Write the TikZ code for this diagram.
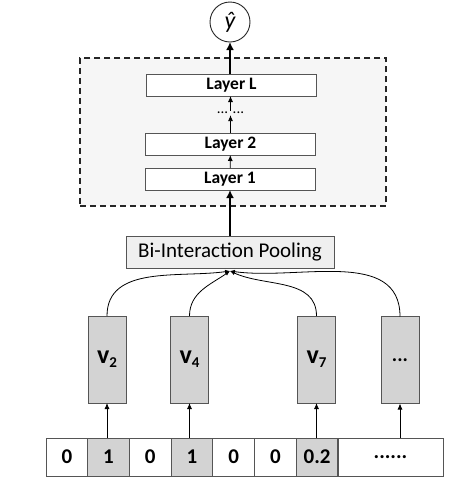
\documentclass[tikz,border=0pt]{standalone}
\usepackage{fontspec}
\setmainfont{Carlito}
\usetikzlibrary{arrows.meta}

\definecolor{cellgray}{HTML}{D3D3D3}
\definecolor{poolgray}{HTML}{EFEFEF}
\definecolor{mlpgray}{HTML}{F6F6F6}
\definecolor{edge}{HTML}{555555}

\newcommand{\embv}[1]{{\fontsize{26}{26}\selectfont\bfseries v}\raisebox{-4pt}{\fontsize{15}{15}\selectfont\bfseries #1}}

\tikzset{
  box/.style={draw=edge, line width=0.9pt, inner sep=0pt, outer sep=0pt},
  cell/.style={box, minimum width=41.7, minimum height=38, font=\fontsize{21}{21}\selectfont\bfseries},
  embbox/.style={box, fill=cellgray, minimum width=38, minimum height=87},
  layerbox/.style={box, fill=white, minimum width=170, minimum height=22, font=\fontsize{17.5}{17.5}\selectfont\bfseries},
  thin arrow/.style={line width=0.8pt, -{Latex[length=6pt,width=5pt]}},
  thick arrow/.style={line width=2.2pt, -{Latex[length=8pt,width=8pt]}},
  curve/.style={line width=0.8pt, -{Latex[length=5pt,width=4pt]}}
}

\begin{document}
\begin{tikzpicture}[x=1pt,y=-1pt]
\useasboundingbox (0,0) rectangle (462,499);

% input vector
\foreach \t/\f [count=\i] in {0/white,1/cellgray,0/white,1/cellgray,0/white,0/white,0.2/cellgray}
  \node[cell, fill=\f] (c\i) at ({46+41.7*(\i-0.5)},457) {\t};
\node[cell, fill=white, minimum width=105] (c8) at (390.5,457) {......};

% embeddings
\node[embbox] (v2) at (107,359.5) {\embv{2}};
\node[embbox] (v4) at (189.5,359.5) {\embv{4}};
\node[embbox] (v7) at (316.5,359.5) {\embv{7}};
\node[embbox] (vn) at (400,360) {\fontsize{20}{20}\selectfont\bfseries ...};

\draw[thin arrow] (v2.south |- c2.north) -- (v2.south);
\draw[thin arrow] (v4.south |- c4.north) -- (v4.south);
\draw[thin arrow] (v7.south |- c7.north) -- (v7.south);
\draw[thin arrow] (vn.south |- c8.north) -- (vn.south);

% pooling
\node[box, fill=poolgray, minimum width=208, minimum height=32,
  font=\fontsize{21}{21}\selectfont] (pool) at (230,252) {Bi-Interaction Pooling};
\coordinate (m) at ([yshift=-3pt]pool.south);

\draw[curve] (v2.north) to[out=90,in=188] (m);
\draw[curve] (v4.north) to[out=90,in=215] (m);
\draw[curve] (v7.north) to[out=90,in=-25] (m);
\draw[curve] (vn.north) to[out=90,in=-8] (m);

% hidden layers
\node[box, draw=black!85, dash pattern=on 6pt off 4pt, line width=1.3pt, fill=mlpgray,
  minimum width=306, minimum height=148] (mlp) at (233,132) {};
\node[layerbox] (l1) at (230,179) {Layer 1};
\node[layerbox] (l2) at (230.5,144) {Layer 2};
\node[inner sep=1pt, font=\fontsize{15}{15}\selectfont] (dots) at (230.5,113) {... ...};
\node[layerbox] (lL) at (231.5,85) {Layer L};

\draw[thin arrow] (l1) -- (l2);
\draw[thin arrow] (l2) -- (dots);
\draw[thin arrow] (dots) -- (lL.south -| dots);

% output
\node[box, circle, draw=black!85, fill=white, minimum size=40,
  font=\fontsize{24}{24}\selectfont\itshape] (yhat) at (230,22) {ŷ};

\draw[thick arrow] (pool.north) -- (l1.south -| pool.north);
\draw[thick arrow] (lL.north -| yhat.south) -- (yhat.south);
\end{tikzpicture}
\end{document}
